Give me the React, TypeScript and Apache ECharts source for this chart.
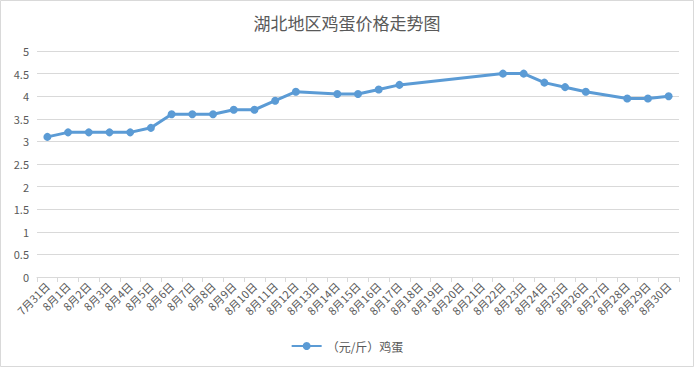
import React, { useEffect, useRef } from "react";
import * as echarts from "echarts";

const title = "湖北地区鸡蛋价格走势图";
const seriesName = "（元/斤）鸡蛋";
const categories = [
  "7月31日", "8月1日", "8月2日", "8月3日", "8月4日", "8月5日", "8月6日", "8月7日",
  "8月8日", "8月9日", "8月10日", "8月11日", "8月12日", "8月13日", "8月14日", "8月15日",
  "8月16日", "8月17日", "8月18日", "8月19日", "8月20日", "8月21日", "8月22日", "8月23日",
  "8月24日", "8月25日", "8月26日", "8月27日", "8月28日", "8月29日", "8月30日",
];
const prices: (number | null)[] = [
  3.1, 3.2, 3.2, 3.2, 3.2, 3.3, 3.6, 3.6,
  3.6, 3.7, 3.7, 3.9, 4.1, null, 4.05, 4.05,
  4.15, 4.25, null, null, null, null, 4.5, 4.5,
  4.3, 4.2, 4.1, null, 3.95, 3.95, 4.0,
];

const FONT = "'Noto Sans CJK SC', 'Noto Sans', sans-serif";
const TEXT = "#595959";
const GRID = "#d9d9d9";
const BLUE = "#5B9BD5";

export default function App() {
  const ref = useRef<HTMLDivElement>(null);
  useEffect(() => {
    document.body.style.margin = "0";
    const chart = echarts.init(ref.current!, null, { renderer: "svg" });
    chart.setOption({
      animation: false,
      backgroundColor: "#fff",
      textStyle: { fontFamily: FONT },
      title: {
        text: title,
        left: "center",
        top: 9,
        textStyle: { fontFamily: FONT, fontSize: 17, fontWeight: "normal", color: TEXT },
      },
      graphic: [
        {
          type: "rect",
          shape: { x: 0.5, y: 0.5, width: 693, height: 366 },
          style: { fill: "none", stroke: GRID, lineWidth: 1 },
          silent: true,
        },
      ],
      grid: { left: 37, right: 15, top: 51, bottom: 90 },
      legend: {
        bottom: 10,
        left: "center",
        itemWidth: 30,
        itemHeight: 10,
        textStyle: { fontFamily: FONT, fontSize: 12, color: TEXT },
        data: [seriesName],
      },
      xAxis: {
        type: "category",
        data: categories,
        boundaryGap: true,
        axisLine: { lineStyle: { color: GRID } },
        axisTick: { show: true, length: 5, lineStyle: { color: GRID } },
        axisLabel: {
          interval: 0,
          rotate: 45,
          fontSize: 11,
          color: TEXT,
          fontFamily: FONT,
          margin: 7,
        },
      },
      yAxis: {
        type: "value",
        min: 0,
        max: 5,
        interval: 0.5,
        axisLine: { show: false },
        axisTick: { show: false },
        axisLabel: { fontSize: 11, color: TEXT, fontFamily: FONT, margin: 8 },
        splitLine: { lineStyle: { color: GRID } },
      },
      series: [
        {
          name: seriesName,
          type: "line",
          data: prices,
          connectNulls: true,
          symbol: "circle",
          symbolSize: 8,
          lineStyle: { color: BLUE, width: 3 },
          itemStyle: { color: BLUE },
        },
      ],
    });
    return () => chart.dispose();
  }, []);
  return <div ref={ref} style={{ width: 694, height: 367 }} />;
}
